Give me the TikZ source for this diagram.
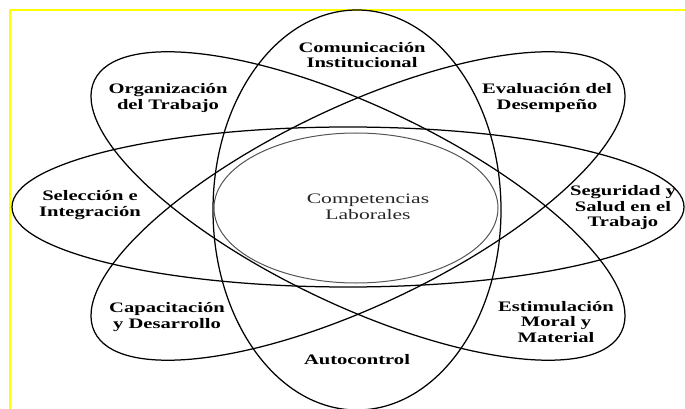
\documentclass[tikz,border=0pt]{standalone}
\usepackage{fontspec}
\usepackage{tikz}
\usetikzlibrary{shapes.geometric}
\newfontfamily\lblfont[FakeStretch=1.42]{Liberation Serif}
\newfontfamily\corefont[FakeStretch=1.49]{Liberation Serif}
\definecolor{frameyellow}{HTML}{FFFF00}
\definecolor{coregray}{HTML}{555555}

\begin{document}
\begin{tikzpicture}[x=1pt, y=-1pt, every node/.style={align=center},
  orbit/.style={draw, ellipse, line width=1.25pt, inner sep=0pt},
  area/.style={font=\lblfont\bfseries\fontsize{14.5}{15.5}\selectfont}]
  \useasboundingbox (0,0) rectangle (685,409);
  \draw[frameyellow, line width=2.2pt] (10,409) -- (10,10) -- (685,10);
  \node[orbit, minimum width=288pt, minimum height=400pt] (vert) at (357,210) {};
  \node[orbit, minimum width=672pt, minimum height=160pt] (horiz) at (348,207) {};
  \node[orbit, minimum width=584pt, minimum height=198pt, rotate=-25.5] (diagA) at (358,206) {};
  \node[orbit, minimum width=584pt, minimum height=198pt, rotate=25.5] (diagB) at (358,206) {};
  \node[orbit, draw=coregray, line width=1pt, minimum width=284pt, minimum height=150pt] (core) at (356,208) {};
  \node[area] (com) at (362,55) {Comunicación\\Institucional};
  \node[area] (org) at (168,98) {Organización\\del Trabajo};
  \node[area] (eva) at (547,98) {Evaluación del\\Desempeño};
  \node[area] (sel) at (90,205) {Selección e\\Integración};
  \node[font=\corefont\fontsize{14.5}{15.5}\selectfont, text=black!85] (comp) at (368,207) {Competencias\\Laborales};
  \node[area] (seg) at (623,208) {Seguridad y\\Salud en el\\Trabajo};
  \node[area] (cap) at (167,317) {Capacitación\\y Desarrollo};
  \node[area] (est) at (556,322) {Estimulación\\Moral y\\Material};
  \node[area] (auto) at (357,360) {Autocontrol};
\end{tikzpicture}
\end{document}
